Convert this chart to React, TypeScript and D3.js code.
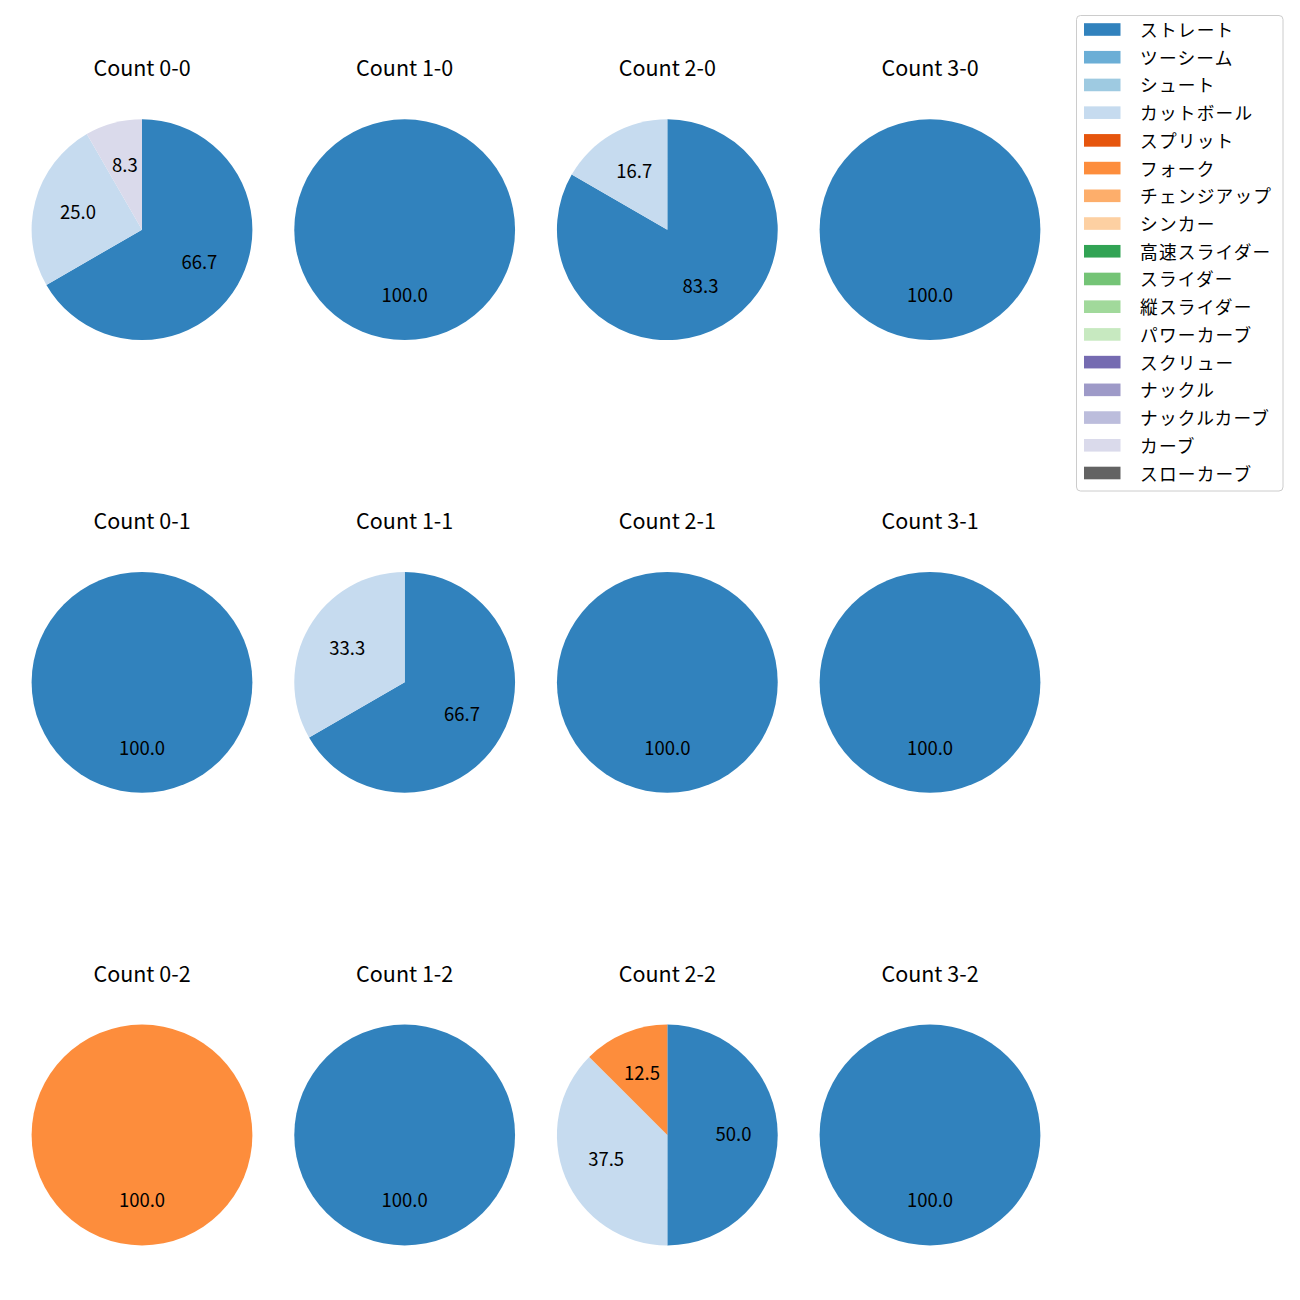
import React from "react";
import * as d3 from "d3";

const pitchTypes = [
  "ストレート", "ツーシーム", "シュート", "カットボール", "スプリット", "フォーク",
  "チェンジアップ", "シンカー", "高速スライダー", "スライダー", "縦スライダー",
  "パワーカーブ", "スクリュー", "ナックル", "ナックルカーブ", "カーブ", "スローカーブ",
];
const pitchColors = [
  "#3182bd", "#6baed6", "#9ecae1", "#c6dbef", "#e6550d", "#fd8d3c",
  "#fdae6b", "#fdd0a2", "#31a354", "#74c476", "#a1d99b", "#c7e9c0",
  "#756bb1", "#9e9ac8", "#bcbddc", "#dadaeb", "#636363",
];

const balls = [0, 1, 2, 3];
const strikes = [0, 1, 2];

// pitch counts per panel (row-major: strikes 0..2, balls 0..3)
const straight = [8, 1, 5, 1, 1, 2, 1, 1, 0, 1, 4, 1];
const cutter = [3, 0, 1, 0, 0, 1, 0, 0, 0, 0, 3, 0];
const fork = [0, 0, 0, 0, 0, 0, 0, 0, 1, 0, 1, 0];
const curve = [1, 0, 0, 0, 0, 0, 0, 0, 0, 0, 0, 0];

const seriesByType: Record<string, number[]> = {
  "ストレート": straight,
  "カットボール": cutter,
  "フォーク": fork,
  "カーブ": curve,
};

const FONT = "'Noto Sans CJK JP', 'Noto Sans', sans-serif";

export default function App() {
  const W = 1300, H = 1300;
  const x = d3.scalePoint<number>().domain(balls).range([142, 930]);
  const y = d3.scalePoint<number>().domain(strikes).range([229.7, 1135]);
  const R = 110.4;
  const pie = d3.pie<{ type: number; v: number }>().sort(null).value((d) => d.v).startAngle(0).endAngle(2 * Math.PI);
  const arc = d3.arc<any>().innerRadius(0).outerRadius(R);
  const labelArc = d3.arc<any>().innerRadius(R * 0.6).outerRadius(R * 0.6);

  const panels: React.ReactNode[] = [];
  strikes.forEach((s, si) => {
    balls.forEach((b, bi) => {
      const idx = si * balls.length + bi;
      const data = pitchTypes
        .map((t, ti) => ({ type: ti, v: seriesByType[t] ? seriesByType[t][idx] : 0 }))
        .filter((d) => d.v > 0);
      const total = d3.sum(data, (d) => d.v);
      const arcs = pie(data);
      const cx = x(b)!, cy = y(s)!;
      panels.push(
        <g key={idx} transform={`translate(${cx},${cy})`}>
          <text x={0} y={-153.5} textAnchor="middle" fontSize={21.5} fill="#000" fontFamily={FONT}>
            {`Count ${b}-${s}`}
          </text>
          {arcs.map((a, i) => (
            <path key={i} d={arc(a)!} fill={pitchColors[a.data.type]} />
          ))}
          {arcs.map((a, i) => {
            const [lx, ly] = labelArc.centroid(a);
            return (
              <text key={"l" + i} x={lx} y={ly - 2} textAnchor="middle" dominantBaseline="central" fontSize={18.5} fill="#000" fontFamily={FONT}>
                {((a.data.v / total) * 100).toFixed(1)}
              </text>
            );
          })}
        </g>
      );
    });
  });

  const legY = d3.scalePoint<number>().domain(d3.range(pitchTypes.length)).range([29.5, 473]);

  return (
    <svg width={W} height={H} style={{ display: "block", marginLeft: -8, marginTop: -8 }} fontFamily={FONT}>
      <rect x={0} y={0} width={W} height={H} fill="#fff" />
      {panels}
      <rect x={1076.5} y={15.5} width={206.5} height={475.5} rx={4} fill="#fff" stroke="#cccccc" strokeWidth={1} />
      {pitchTypes.map((t, i) => (
        <g key={t}>
          <rect x={1084} y={legY(i)! - 6.3} width={36.5} height={12.6} fill={pitchColors[i]} />
          <text x={1140} y={legY(i)! - 0.5} dominantBaseline="central" fontSize={17.7} letterSpacing={1.2} fill="#000">
            {t}
          </text>
        </g>
      ))}
    </svg>
  );
}
